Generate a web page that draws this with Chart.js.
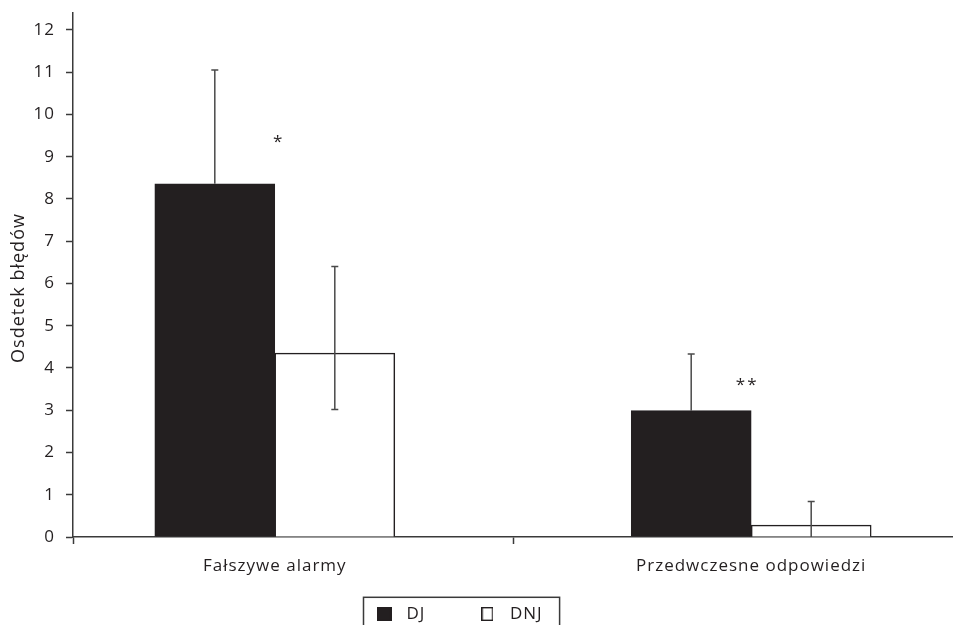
<!DOCTYPE html>
<html>
<head>
<meta charset="utf-8">
<script src="https://cdn.jsdelivr.net/npm/chart.js@4.4.1/dist/chart.umd.min.js"></script>
<style>
  html, body { margin: 0; padding: 0; overflow: hidden; background: #fff; }
</style>
</head>
<body>
<canvas id="chart" width="953" height="740"></canvas>
<script>
// categories and series
const categories = ['Fałszywe alarmy', 'Przedwczesne odpowiedzi'];
const seriesNames = ['DJ', 'DNJ'];

// means
const djValues = [8.36, 2.99];
const dnjValues = [4.35, 0.28];

// error bar ends (upper / lower)
const djUpper = [11.05, 4.33];
const djLower = [8.36, 2.99];
const dnjUpper = [6.40, 0.84];
const dnjLower = [3.02, 0];

// significance marks
const sigMarks = ['*', '**'];
const sigLevels = [9.4, 3.65];

const axisColor = '#3a3a3a';
const inkColor = '#231f20';
const plotBottom = 537;

Chart.defaults.font.family = "'Open Sans', sans-serif";
Chart.defaults.color = inkColor;

// small legend swatches
function swatch(w, h, fill) {
  const c = document.createElement('canvas');
  c.width = w; c.height = h;
  const g = c.getContext('2d');
  g.fillStyle = fill;
  g.fillRect(0, 0, w, h);
  g.strokeStyle = inkColor;
  g.lineWidth = 1.4;
  g.strokeRect(0.7, 0.7, w - 1.4, h - 1.4);
  return c;
}

// the source font is set a little wide
const spacing = {
  id: 'spacing',
  beforeUpdate(chart) { chart.ctx.letterSpacing = '1px'; },
  beforeDraw(chart) { chart.ctx.letterSpacing = '1px'; }
};

// y title sits a bit lower than the axis middle
const titleNudge = {
  id: 'titleNudge',
  afterUpdate(chart) {
    const s = chart.scales.y;
    if (s._nudged) return;
    const orig = s.drawTitle.bind(s);
    s.drawTitle = function () {
      chart.ctx.save();
      chart.ctx.translate(0, 13);
      orig();
      chart.ctx.restore();
    };
    s._nudged = true;
  }
};

const errorBars = {
  id: 'errorBars',
  afterDatasetsDraw(chart) {
    const ctx = chart.ctx;
    const y = chart.scales.y;
    chart.data.datasets.forEach((ds, di) => {
      const meta = chart.getDatasetMeta(di);
      meta.data.forEach((bar, i) => {
        const top = y.getPixelForValue(ds.errUpper[i]);
        const bottom = y.getPixelForValue(ds.errLower[i]);
        ctx.save();
        ctx.strokeStyle = '#4a4a4a';
        ctx.lineWidth = 1.5;
        ctx.beginPath();
        ctx.moveTo(bar.x, top);
        ctx.lineTo(bar.x, bottom);
        ctx.moveTo(bar.x - 3.5, top);
        ctx.lineTo(bar.x + 3.5, top);
        if (ds.errLower[i] > 0 && ds.errLower[i] < ds.data[i].y) {
          ctx.moveTo(bar.x - 3.5, bottom);
          ctx.lineTo(bar.x + 3.5, bottom);
        }
        ctx.stroke();
        ctx.restore();
      });
    });
  }
};

const sigShift = [4, -4];
const sigLabels = {
  id: 'sigLabels',
  afterDatasetsDraw(chart) {
    const ctx = chart.ctx;
    const x = chart.scales.x, y = chart.scales.y;
    ctx.save();
    ctx.fillStyle = inkColor;
    ctx.font = "17px 'Open Sans', sans-serif";
    ctx.letterSpacing = '2px';
    ctx.textAlign = 'center';
    ctx.textBaseline = 'middle';
    sigMarks.forEach((m, i) => {
      ctx.fillText(m, x.getPixelForValue(i) + sigShift[i], y.getPixelForValue(sigLevels[i]) + 2);
    });
    ctx.restore();
  }
};

// move legend to its spot under the axis and frame it
const legendFrame = {
  id: 'legendFrame',
  afterUpdate(chart) {
    const lg = chart.legend;
    const hb = lg.legendHitBoxes;
    if (!hb || !hb.length) return;
    const dx = 370 - hb[0].left;
    const dy = 605.5 - hb[0].top;
    lg.left += dx; lg.right += dx;
    lg.top += dy; lg.bottom += dy;
    hb.forEach(h => { h.left += dx; h.top += dy; });
  },
  afterDraw(chart) {
    const hb = chart.legend.legendHitBoxes;
    if (!hb || !hb.length) return;
    const last = hb[hb.length - 1];
    const ctx = chart.ctx;
    ctx.save();
    ctx.strokeStyle = axisColor;
    ctx.lineWidth = 1.5;
    const left = hb[0].left - 6.5;
    const right = last.left + last.width + 17;
    const top = hb[0].top - 8.2;
    ctx.strokeRect(left, top, right - left, 60);
    ctx.restore();
  }
};

const ctx = document.getElementById('chart').getContext('2d');
new Chart(ctx, {
  type: 'bar',
  data: {
    datasets: [
      {
        label: seriesNames[0],
        data: djValues.map((v, i) => ({ x: i, y: v })),
        errUpper: djUpper,
        errLower: djLower,
        backgroundColor: inkColor,
        borderColor: inkColor,
        borderWidth: 1.5,
        pointStyle: swatch(15, 14, inkColor)
      },
      {
        label: seriesNames[1],
        data: dnjValues.map((v, i) => ({ x: i, y: v })),
        errUpper: dnjUpper,
        errLower: dnjLower,
        backgroundColor: '#ffffff',
        borderColor: inkColor,
        borderWidth: 1.5,
        pointStyle: swatch(12, 14, '#ffffff')
      }
    ]
  },
  options: {
    responsive: false,
    animation: false,
    barThickness: 120,
    layout: { padding: { top: 13, right: 0, left: 0, bottom: 0 } },
    plugins: {
      legend: {
        position: 'bottom',
        labels: {
          usePointStyle: true,
          pointStyleWidth: 28,
          boxHeight: 14,
          padding: 48,
          font: { size: 17 },
          color: inkColor
        }
      },
      tooltip: { enabled: false }
    },
    scales: {
      x: {
        type: 'linear',
        offset: false,
        min: -0.4236,
        max: 1.4236,
        afterFit(scale) {
          scale.height = scale.chart.height - plotBottom - scale.chart.legend.height;
        },
        afterBuildTicks(scale) {
          scale.ticks = [{ value: -0.4236 }, { value: 0 }, { value: 0.5 }, { value: 1 }];
        },
        ticks: {
          autoSkip: false,
          maxRotation: 0,
          padding: 12,
          font: { size: 17 },
          callback: (v) => (Number.isInteger(v) ? categories[v] : '')
        },
        grid: {
          offset: false,
          drawOnChartArea: false,
          tickLength: 7,
          tickWidth: 1.5,
          tickColor: (c) => (c.tick && (c.tick.value === 0.5 || c.tick.value < 0) ? axisColor : 'rgba(0,0,0,0)')
        },
        border: { color: axisColor, width: 1.5 }
      },
      y: {
        min: 0,
        max: 12.4,
        afterFit(scale) {
          scale.width = 73;
          scale.paddingTop = 0;
        },
        ticks: {
          stepSize: 1,
          includeBounds: false,
          padding: 11,
          font: { size: 17 }
        },
        grid: {
          drawOnChartArea: false,
          tickLength: 7,
          tickWidth: 1.5,
          tickColor: axisColor
        },
        border: { color: axisColor, width: 1.5 },
        title: {
          display: true,
          text: 'Osdetek błędów',
          font: { size: 18 },
          padding: { top: 8, bottom: 0 }
        }
      }
    }
  },
  plugins: [spacing, titleNudge, errorBars, sigLabels, legendFrame]
});
</script>
</body>
</html>
